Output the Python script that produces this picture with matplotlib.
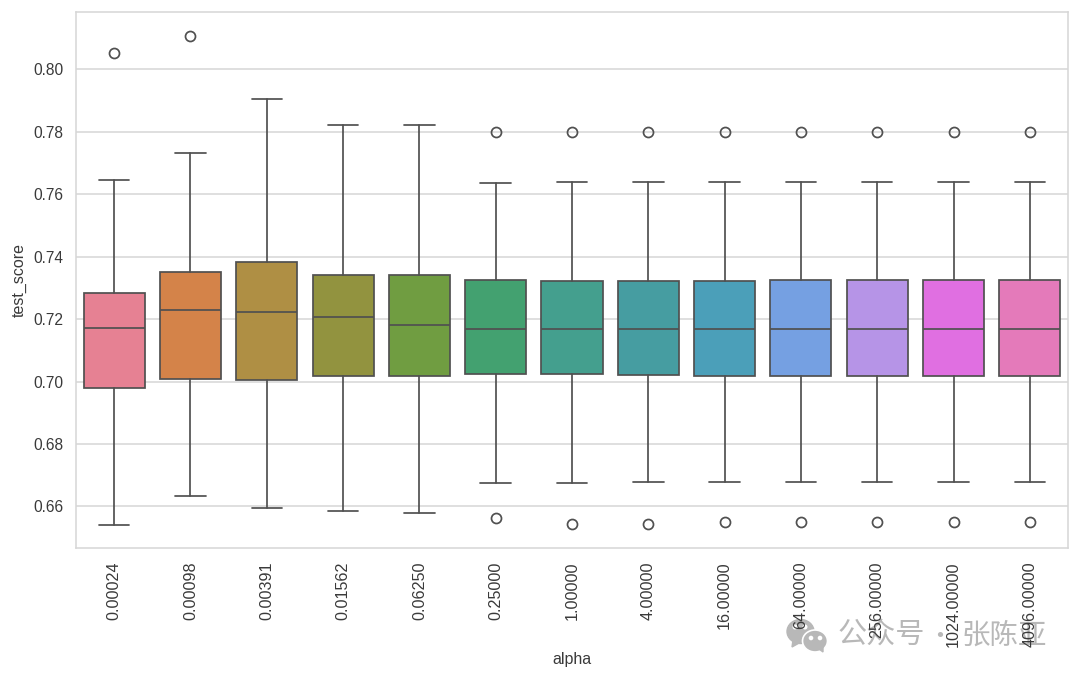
import matplotlib
matplotlib.use("Agg")
import matplotlib.pyplot as plt
import seaborn as sns
from matplotlib.patches import Ellipse, Polygon

alpha_labels = ["0.00024", "0.00098", "0.00391", "0.01562", "0.06250", "0.25000", "1.00000",
                "4.00000", "16.00000", "64.00000", "256.00000", "1024.00000", "4096.00000"]

whisker_low = [0.6542, 0.6633, 0.6594, 0.6585, 0.6578, 0.6675, 0.6675, 0.6678, 0.6678, 0.6678, 0.6678, 0.6678, 0.6678]
q1 = [0.6979, 0.7008, 0.7005, 0.7019, 0.7018, 0.7024, 0.7024, 0.7021, 0.7018, 0.7018, 0.7018, 0.7018, 0.7018]
medians = [0.7171, 0.7229, 0.7222, 0.7207, 0.7181, 0.7168, 0.7167, 0.7168, 0.7168, 0.7168, 0.7168, 0.7168, 0.7168]
q3 = [0.7285, 0.7351, 0.7383, 0.7343, 0.7340, 0.7325, 0.7321, 0.7321, 0.7321, 0.7325, 0.7325, 0.7325, 0.7325]
whisker_high = [0.7646, 0.7732, 0.7905, 0.7822, 0.7822, 0.7636, 0.7639, 0.7639, 0.7639, 0.7639, 0.7639, 0.7639, 0.7639]
outliers = [[0.8053], [0.8107], [], [], [],
            [0.7801, 0.6563], [0.7801, 0.6543], [0.7801, 0.6543], [0.7801, 0.6550],
            [0.7801, 0.6550], [0.7801, 0.6550], [0.7801, 0.6550], [0.7801, 0.6550]]

sns.set_style("whitegrid")
plt.rcParams["font.family"] = ["Liberation Sans", "DejaVu Sans"]

LINE = "#505050"
TEXT = "#3a3a3a"

fig = plt.figure(figsize=(10.8, 6.79), dpi=100)
ax = fig.add_axes([76 / 1080, 1 - 548 / 679, 992 / 1080, 536 / 679])

stats = []
for i in range(len(alpha_labels)):
    stats.append({"whislo": whisker_low[i], "q1": q1[i], "med": medians[i], "q3": q3[i],
                  "whishi": whisker_high[i], "fliers": outliers[i]})

line_style = {"color": LINE, "linewidth": 1.25}
parts = ax.bxp(stats, positions=range(len(stats)), widths=0.8, patch_artist=True, capwidths=0.4,
               boxprops={"edgecolor": LINE, "linewidth": 1.25},
               medianprops=line_style, whiskerprops=line_style, capprops=line_style,
               flierprops={"marker": "o", "markerfacecolor": "none", "markeredgecolor": LINE,
                           "markeredgewidth": 1.25, "markersize": 7.2})

colors = sns.color_palette("husl", len(stats), desat=0.75)
for box, color in zip(parts["boxes"], colors):
    box.set_facecolor(color)

ax.set_xlim(-0.5, 12.5)
ax.set_ylim(0.6467, 0.8184)
ax.set_yticks([0.66, 0.68, 0.70, 0.72, 0.74, 0.76, 0.78, 0.80])
ax.set_xticks(range(len(stats)))
ax.set_xticklabels(alpha_labels, rotation=90)
ax.tick_params(axis="y", length=0, labelsize=11.2, labelcolor=TEXT, pad=9)
ax.tick_params(axis="x", length=0, labelsize=11.6, labelcolor=TEXT, pad=9.5)
ax.grid(axis="y", color="#d6d6d6", linewidth=1.1)
ax.grid(axis="x", visible=False)
ax.set_axisbelow(True)
for spine in ax.spines.values():
    spine.set_color("#d6d6d6")
    spine.set_linewidth(1.1)

ax.set_xlabel("alpha", fontsize=11.5, color=TEXT)
ax.set_ylabel("test_score", fontsize=11.5, color=TEXT)
ax.xaxis.set_label_coords((572 - 76) / 992, -104 / 536)
ax.yaxis.set_label_coords(-49 / 992, 0.5)

# account watermark in the lower right corner, underneath the tick labels
overlay = fig.add_axes([0, 0, 1, 1], facecolor="none", zorder=-1)
overlay.set_xlim(0, 1080)
overlay.set_ylim(679, 0)
overlay.axis("off")
grey = "#b8b8b8"
cjk = ["Noto Sans CJK SC", "DejaVu Sans"]
overlay.add_patch(Ellipse((800.5, 631.5), 27, 24, color=grey))
overlay.add_patch(Polygon([[793, 640], [792, 647], [801, 642]], color=grey))
overlay.add_patch(Ellipse((815, 641), 25, 22, facecolor=grey, edgecolor="white", linewidth=1.2))
overlay.add_patch(Polygon([[819, 649], [823, 652], [823, 646]], color=grey))
for x, y, r in [(795, 627, 1.8), (805, 627, 1.8), (811, 638, 1.6), (820, 638, 1.6)]:
    overlay.add_patch(Ellipse((x, y), r * 2, r * 2, color="white"))
overlay.text(881, 636, "公众号", fontsize=21, color=grey, va="center", ha="center", family=cjk)
overlay.text(940, 637, "·", fontsize=18, color=grey, va="center", ha="center", family=cjk)
overlay.text(1004, 636, "张陈亚", fontsize=20.5, color=grey, va="center", ha="center", family=cjk)

fig.savefig("out.png", dpi=100)
